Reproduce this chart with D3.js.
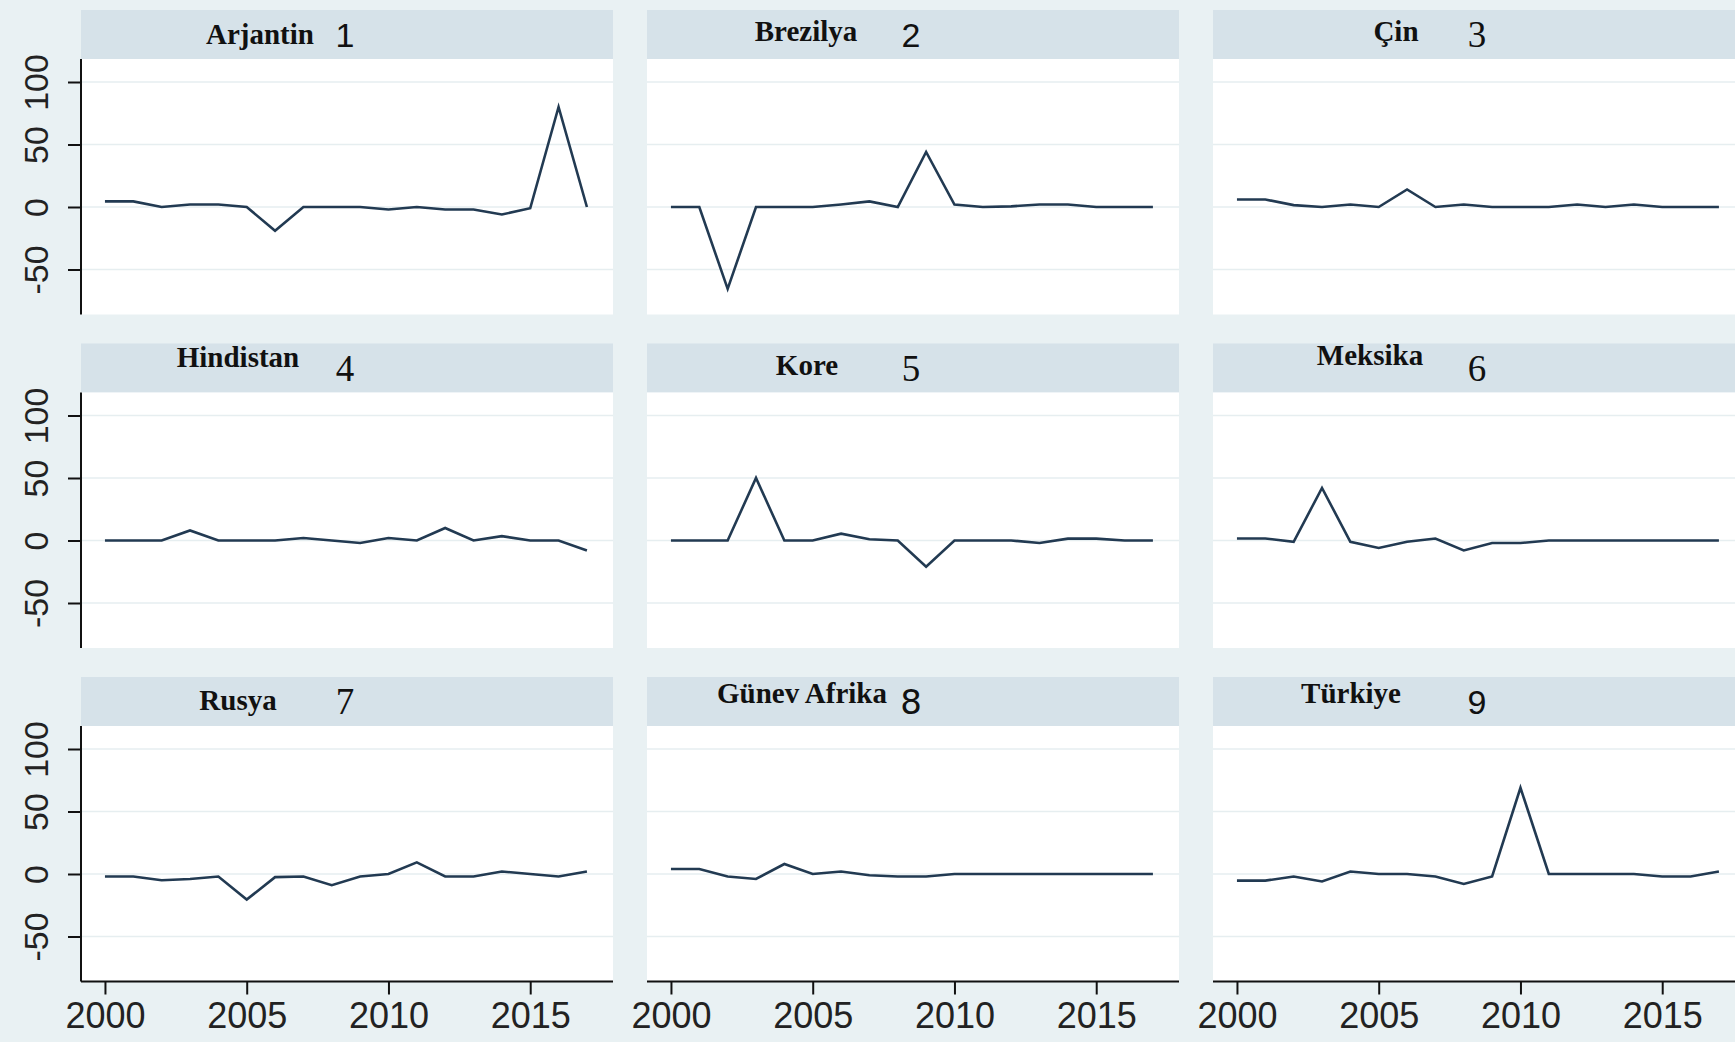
<!DOCTYPE html>
<html><head><meta charset="utf-8">
<script src="https://cdn.jsdelivr.net/npm/d3@7"></script>
<style>html,body{margin:0;padding:0;background:#e9f1f3;overflow:hidden}svg{display:block}</style>
</head><body>
<script>
// ---------- data ----------
const years = [2000,2001,2002,2003,2004,2005,2006,2007,2008,2009,2010,2011,2012,2013,2014,2015,2016,2017];
const countries = ["Arjantin","Brezilya","Çin","Hindistan","Kore","Meksika","Rusya","Günev Afrika","Türkiye"];
const panelNumbers = ["1","2","3","4","5","6","7","8","9"];
const arjantin  = [4.5, 4.5, 0, 2, 2, 0, -19, 0, 0, 0, -2, 0, -2, -2, -6, -1, 80, 0];
const brezilya  = [0, 0, -65.5, 0, 0, 0, 2, 4.5, 0, 44, 2, 0, 0.5, 2, 2, 0, 0, 0];
const cin       = [6, 6, 1.5, 0, 2, 0, 14, 0, 2, 0, 0, 0, 2, 0, 2, 0, 0, 0];
const hindistan = [0, 0, 0, 8, 0, 0, 0, 2, 0, -2, 2, 0, 10, 0, 3.5, 0, 0, -8];
const kore      = [0, 0, 0, 50, 0, 0, 5.5, 1, 0, -21, 0, 0, 0, -2, 1.5, 1.5, 0, 0];
const meksika   = [1.6, 1.6, -1, 42, -1, -6, -1, 1.6, -8, -2, -2, 0, 0, 0, 0, 0, 0, 0];
const rusya     = [-2, -2, -5, -4, -2, -20.5, -2.5, -2, -9, -2, 0, 9.3, -2, -2, 2, 0, -2, 2];
const gunevAfrika = [4, 4, -2, -4, 8, 0, 2, -1, -2, -2, 0, 0, 0, 0, 0, 0, 0, 0];
const turkiye   = [-5.3, -5.3, -2, -6, 2, 0, 0, -2, -8, -2, 69, 0, 0, 0, 0, -2, -2, 2];
const seriesList = [arjantin, brezilya, cin, hindistan, kore, meksika, rusya, gunevAfrika, turkiye];
const yTicks = [-50, 0, 50, 100];
const xTicks = [2000, 2005, 2010, 2015];
const yDomain = [-86, 118.4];
const xDomain = [1999.155, 2017.92];

// ---------- layout / style ----------
const W = 1735, H = 1042;
const colLeft = [81, 647, 1213];
const panelW = 532;
const rowY100 = [82, 415.5, 749];
const stripAbove = 72, plotTopOff = 23, plotBottomOff = 232.5;
const titleDx = [179, 159, 183, 157, 160, 157, 157, 155, 138];
const titleBase = [34, 31, 31, 23, 31, 21, 33, 26, 26];
const numDx = 264, numBase = 37;
const numFont = ["Liberation Sans","Liberation Sans","Liberation Serif","Liberation Serif","Liberation Serif","Liberation Serif","Liberation Serif","DejaVu Sans","Liberation Sans"];
const C = {bg:"#e9f1f3", strip:"#d6e2e9", plot:"#ffffff", grid:"#e6eef0", line:"#223a52", axis:"#111"};

const svg = d3.select("body").append("svg").attr("width", W).attr("height", H);
svg.append("rect").attr("width", W).attr("height", H).attr("fill", C.bg);

const plotH = plotBottomOff + plotTopOff;
const x = d3.scaleLinear().domain(xDomain).range([0, panelW]);
const y = d3.scaleLinear().domain(yDomain).range([plotH, 0]);
const fmt = d => String(d);

countries.forEach((name, i) => {
  const col = i % 3, row = Math.floor(i / 3);
  const left = colLeft[col];
  const top = rowY100[row] - plotTopOff;
  const stripTop = rowY100[row] - stripAbove;
  const g = svg.append("g");

  // strip
  g.append("rect").attr("x", left).attr("y", stripTop).attr("width", panelW)
    .attr("height", top - stripTop).attr("fill", C.strip);
  g.append("text").attr("x", left + titleDx[i]).attr("y", stripTop + titleBase[i])
    .attr("text-anchor", "middle").attr("font-family", "Liberation Serif")
    .attr("font-weight", "bold").attr("font-size", 29).attr("fill", "#111").text(name);
  g.append("text").attr("x", left + numDx).attr("y", stripTop + numBase)
    .attr("text-anchor", "middle").attr("font-family", numFont[i])
    .attr("font-size", numFont[i] === "Liberation Serif" ? 37 : 34).attr("fill", "#111")
    .text(panelNumbers[i]);

  const p = g.append("g").attr("transform", `translate(${left},${top})`);
  p.append("rect").attr("width", panelW).attr("height", plotH).attr("fill", C.plot);

  // gridlines
  p.selectAll("line.grid").data(yTicks).enter().append("line").attr("class", "grid")
    .attr("x1", 0).attr("x2", panelW).attr("y1", d => y(d)).attr("y2", d => y(d))
    .attr("stroke", C.grid).attr("stroke-width", 1.6);

  // series line
  const data = years.map((yr, k) => [yr, seriesList[i][k]]);
  p.append("path").datum(data)
    .attr("d", d3.line().x(d => x(d[0])).y(d => y(d[1])))
    .attr("fill", "none").attr("stroke", C.line).attr("stroke-width", 2.6)
    .attr("stroke-linejoin", "miter");

  // y axis (first column)
  if (col === 0) {
    const ya = p.append("g").call(d3.axisLeft(y).tickValues(yTicks).tickSize(13).tickFormat(fmt));
    ya.select(".domain").attr("stroke", C.axis).attr("stroke-width", 2).attr("d", `M0,0V${plotH}`);
    ya.selectAll(".tick line").attr("stroke", C.axis).attr("stroke-width", 2);
    ya.selectAll(".tick text")
      .attr("font-family", "Liberation Sans").attr("font-size", 34).attr("fill", "#222")
      .attr("x", null).attr("dy", null)
      .attr("text-anchor", "middle")
      .attr("transform", "translate(-33,0) rotate(-90)");
  }
  // x axis (last row)
  if (row === 2) {
    const xa = p.append("g").attr("transform", `translate(0,${plotH})`)
      .call(d3.axisBottom(x).tickValues(xTicks).tickSize(13).tickFormat(fmt));
    xa.select(".domain").attr("stroke", C.axis).attr("stroke-width", 2).attr("d", `M0,0H${panelW}`);
    xa.selectAll(".tick line").attr("stroke", C.axis).attr("stroke-width", 2);
    xa.selectAll(".tick text")
      .attr("font-family", "Liberation Sans").attr("font-size", 36).attr("fill", "#222")
      .attr("y", 46).attr("dy", null);
  }
});
</script>
</body></html>
